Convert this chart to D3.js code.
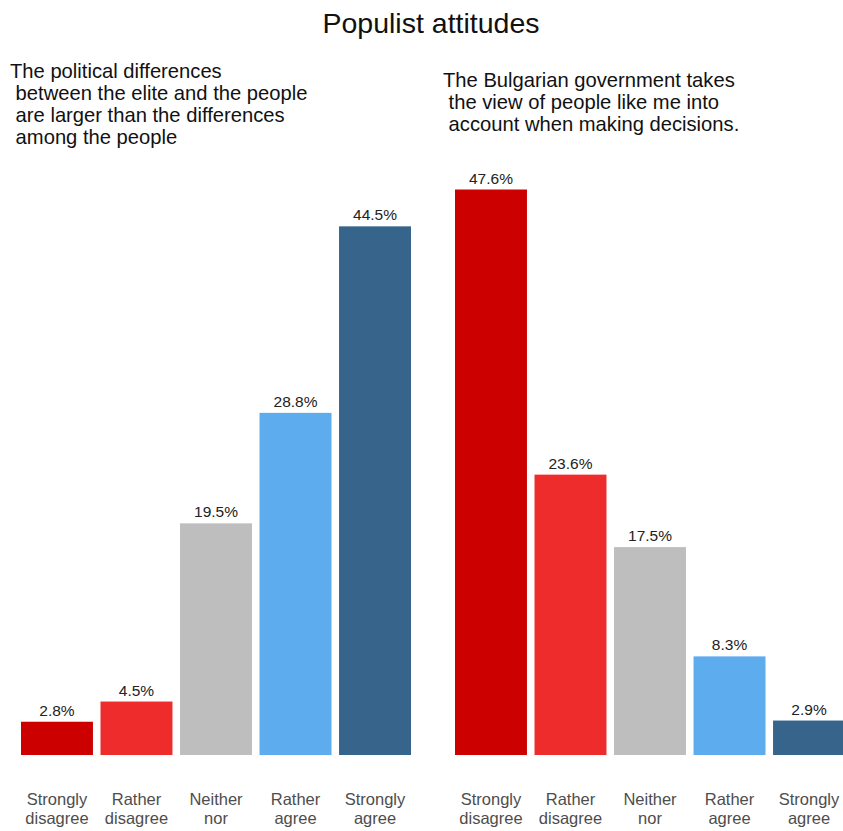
<!DOCTYPE html>
<html><head><meta charset="utf-8">
<script src="https://cdn.jsdelivr.net/npm/d3@7"></script>
<style>body{margin:0;background:#fff}svg{display:block}</style>
</head><body>
<script>
const categories = ["Strongly\ndisagree","Rather\ndisagree","Neither\nnor","Rather\nagree","Strongly\nagree"];
const leftValues = [2.8, 4.5, 19.5, 28.8, 44.5];
const rightValues = [47.6, 23.6, 17.5, 8.3, 2.9];
const colors = ["#CD0000","#EE2C2C","#BEBEBE","#5CACEE","#36648B"];
const title = "Populist attitudes";
const leftSubtitle = ["The political differences"," between the elite and the people"," are larger than the differences"," among the people"];
const rightSubtitle = ["The Bulgarian government takes"," the view of people like me into"," account when making decisions."];

const W = 843, H = 831;
const svg = d3.select("body").append("svg").attr("width", W).attr("height", H);
const font = "Liberation Sans, Arial, sans-serif";

const y = d3.scaleLinear().domain([0, 50]).range([755, 161]);

svg.append("text").attr("x", 431).attr("y", 33).attr("text-anchor","middle")
  .attr("font-family", font).attr("font-size", 28.5).attr("fill","#111").text(title);

function subtitle(lines, x, y0){
  const t = svg.append("text").attr("font-family", font).attr("font-size", 20.2).attr("fill","#111")
    .attr("xml:space","preserve").style("white-space","pre");
  lines.forEach((l,i)=>{
    t.append("tspan").attr("x", x).attr("y", y0 + i*22).text(l);
  });
}
subtitle(leftSubtitle, 10, 78);
subtitle(rightSubtitle, 443, 87);

function panel(values, r0, r1){
  const x = d3.scaleBand().domain(categories).range([r0, r1]).paddingInner(0.095).paddingOuter(0);
  const g = svg.append("g");
  g.selectAll("rect").data(values).join("rect")
    .attr("x", (d,i)=>x(categories[i])).attr("width", x.bandwidth())
    .attr("y", d=>y(d)).attr("height", d=>y(0)-y(d))
    .attr("fill", (d,i)=>colors[i]);
  g.selectAll("text.val").data(values).join("text").attr("class","val")
    .attr("x", (d,i)=>x(categories[i]) + x.bandwidth()/2)
    .attr("y", d=>y(d)-6).attr("text-anchor","middle")
    .attr("font-family", font).attr("font-size", 15.5).attr("fill","#222")
    .text(d=>d.toFixed(1)+"%");
  categories.forEach((c,i)=>{
    c.split("\n").forEach((l,j)=>{
      g.append("text").attr("text-anchor","middle").attr("font-family", font)
        .attr("font-size", 16.5).attr("fill","#4d4d4d")
        .attr("x", x(c)+x.bandwidth()/2).attr("y", 805 + j*19).text(l);
    });
  });
}
panel(leftValues, 21, 411);
panel(rightValues, 455, 845);
</script>
</body></html>
